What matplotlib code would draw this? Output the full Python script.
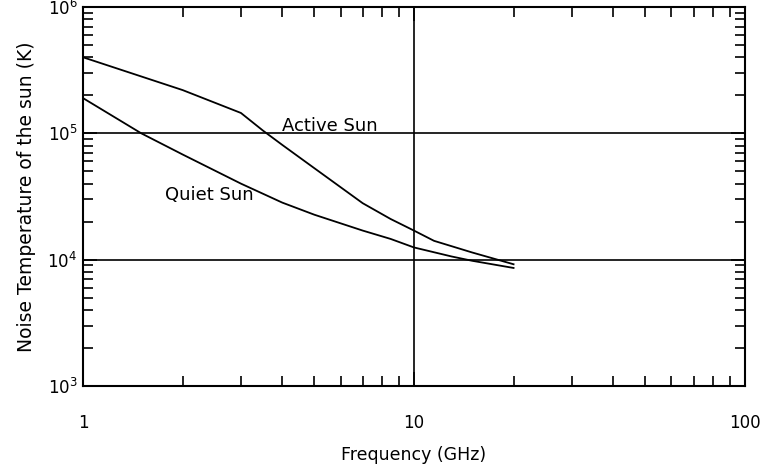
import numpy as np
import matplotlib
matplotlib.use('Agg')
import matplotlib.pyplot as plt

# values (frequency in GHz, temperature in K)
active_freq = [1, 2, 3, 3.5, 4, 5, 7, 8.5, 10, 11.5, 15, 20]
active_temp = [4.0e5, 2.2e5, 1.45e5, 1.05e5, 8.1e4, 5.3e4, 2.8e4, 2.1e4, 1.7e4, 1.41e4, 1.14e4, 9.2e3]

quiet_freq = [1, 1.5, 2, 3, 4, 5, 7, 8.5, 10, 13, 15, 20]
quiet_temp = [1.9e5, 1.0e5, 6.8e4, 4.0e4, 2.83e4, 2.27e4, 1.7e4, 1.46e4, 1.25e4, 1.06e4, 9.8e3, 8.6e3]

label_active = 'Active Sun'
label_quiet = 'Quiet Sun'

plt.rc('font', size=12)

fig = plt.figure(figsize=(7.66, 4.67), dpi=100)
ax = fig.add_axes([0.1084, 0.1734, 0.8640, 0.8116])

ax.plot(active_freq, active_temp, color='k', lw=1.3)
ax.plot(quiet_freq, quiet_temp, color='k', lw=1.3)

ax.set_xscale('log')
ax.set_yscale('log')
ax.set_xlim(1, 100)
ax.set_ylim(1e3, 1e6)

ax.grid(True, which='major', color='k', lw=1.2)

ax.set_xticks([1, 10, 100])
ax.set_xticklabels(['1', '10', '100'])

ax.tick_params(which='both', direction='in', top=True, right=True, color='k')
ax.tick_params(which='major', length=10, width=1.2)
ax.tick_params(which='minor', length=7, width=1.2)
ax.tick_params(axis='x', which='major', pad=20)
ax.tick_params(axis='y', which='major', pad=4)

for s in ax.spines.values():
    s.set_linewidth(1.5)

ax.text(4.0, 1.15e5, label_active, ha='left', va='center', fontsize=13)
ax.text(1.77, 3.25e4, label_quiet, ha='left', va='center', fontsize=13)

ax.set_xlabel('Frequency (GHz)', labelpad=10, fontsize=12.5)
ax.set_ylabel('Noise Temperature of the sun (K)', labelpad=8, fontsize=13.5)

fig.savefig('out.png', dpi=100)
